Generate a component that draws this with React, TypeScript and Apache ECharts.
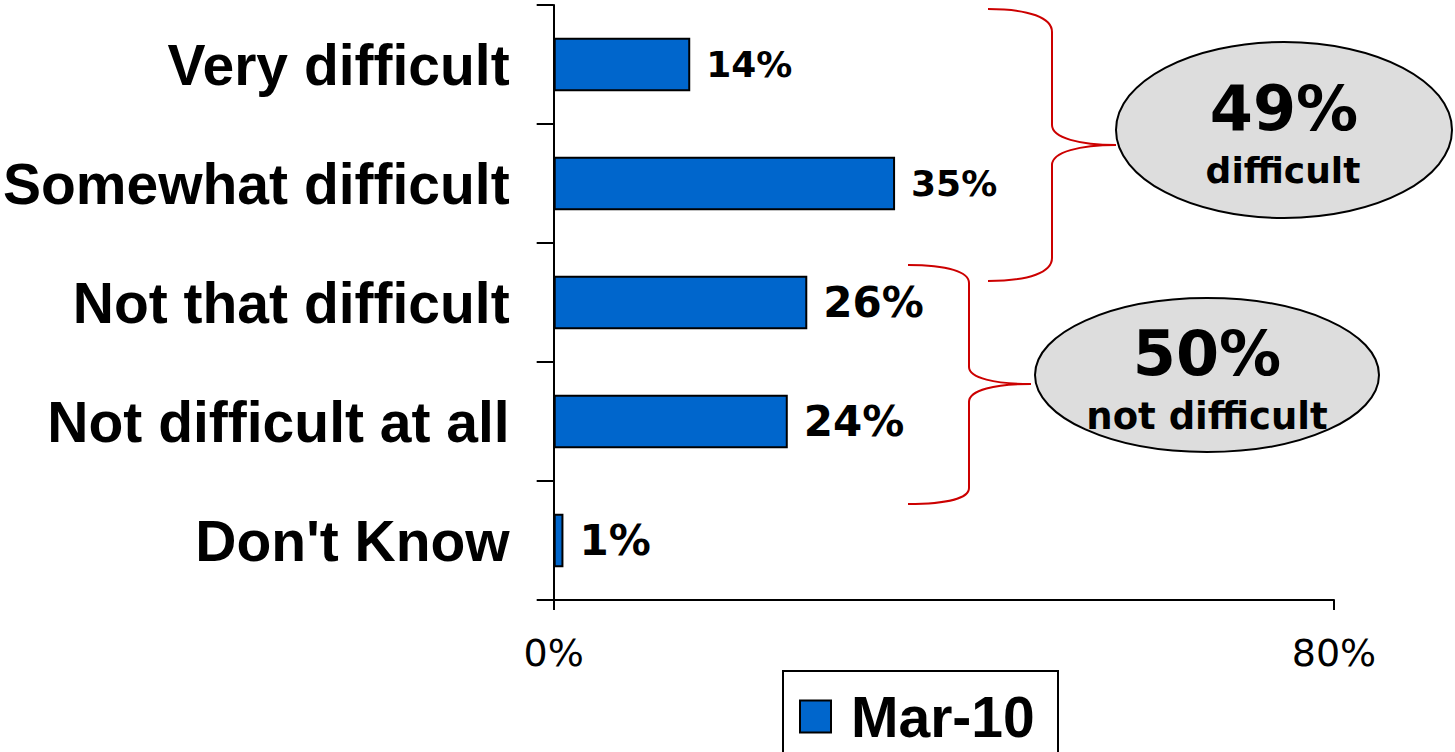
import React, { useEffect, useRef } from "react";
import * as echarts from "echarts";

const categories = [
  "Very difficult",
  "Somewhat difficult",
  "Not that difficult",
  "Not difficult at all",
  "Don't Know",
];
const values = [14, 35, 26, 24, 1];
const xTicks = [0, 80];
const seriesName = "Mar-10";
const groupDifficult = { value: "49%", label: "difficult" };
const groupNotDifficult = { value: "50%", label: "not difficult" };

const brace1 =
  "M988,9 C1030,9 1052,18 1052,32 L1052,125 C1052,138 1080,145 1116,145 C1080,145 1052,152 1052,165 L1052,258 C1052,272 1030,281 988,281";
const brace2 =
  "M908,265 C948,265 969,272 969,283 L969,367 C969,378 995,384 1031,384 C995,384 969,390 969,402 L969,488 C969,498 948,504 908,504";

echarts.graphic.registerShape("brace1", echarts.graphic.extendPath(brace1, {}) as any);
echarts.graphic.registerShape("brace2", echarts.graphic.extendPath(brace2, {}) as any);

export default function App() {
  const ref = useRef<HTMLDivElement>(null);
  useEffect(() => {
    if (!ref.current) return;
    const chart = echarts.init(ref.current, undefined, { renderer: "svg" });
    const labelSizes = [36, 36, 42, 42, 42];
    const option: any = {
      animation: false,
      grid: { left: 551, right: 121, top: 5, bottom: 152, containLabel: false },
      legend: {
        data: [seriesName],
        left: 799,
        top: 688,
        itemWidth: 31,
        itemHeight: 32,
        icon: "rect",
        padding: 0,
        textStyle: {
          fontFamily: "Liberation Sans",
          fontWeight: "bold",
          fontSize: 57,
          color: "#000",
          lineHeight: 32,
          height: 32,
          padding: [0, 0, 0, 15],
        },
      },
      xAxis: {
        type: "value",
        min: xTicks[0],
        max: xTicks[1],
        interval: xTicks[1] - xTicks[0],
        splitLine: { show: false },
        axisLine: { show: true, lineStyle: { color: "#000", width: 2 } },
        axisTick: { show: true, length: 10, lineStyle: { color: "#000", width: 2 } },
        axisLabel: {
          formatter: "{value}%",
          margin: 34,
          fontFamily: "DejaVu Sans",
          fontSize: 38,
          color: "#000",
        },
      },
      yAxis: {
        type: "category",
        data: categories,
        inverse: true,
        axisLine: { show: true, lineStyle: { color: "#000", width: 2 } },
        axisTick: { show: true, length: 17, lineStyle: { color: "#000", width: 2 } },
        axisLabel: {
          margin: 44,
          fontFamily: "Liberation Sans",
          fontWeight: "bold",
          fontSize: 57,
          color: "#000",
        },
      },
      series: [
        {
          name: seriesName,
          type: "bar",
          barWidth: "45%",
          data: values.map((v, i) => ({
            value: v,
            label: { fontSize: labelSizes[i] },
          })),
          itemStyle: { color: "#0066CC", borderColor: "#000", borderWidth: 2 },
          label: {
            show: true,
            position: "right",
            distance: 16,
            formatter: "{c}%",
            fontFamily: "DejaVu Sans",
            fontWeight: "bold",
            color: "#000",
          },
        },
      ],
      graphic: [
        {
          type: "rect",
          shape: { x: 783, y: 671, width: 275, height: 110 },
          style: { fill: "none", stroke: "#000", lineWidth: 2 },
          z: 100,
        },
        {
          type: "brace1",
          x: 0,
          y: 0,
          style: { fill: "none", stroke: "#CC0000", lineWidth: 2 },
        },
        {
          type: "brace2",
          x: 0,
          y: 0,
          style: { fill: "none", stroke: "#CC0000", lineWidth: 2 },
        },
        {
          type: "ellipse",
          shape: { cx: 1284, cy: 130, rx: 168, ry: 88 },
          style: { fill: "#DDDDDD", stroke: "#000", lineWidth: 2 },
        },
        {
          type: "ellipse",
          shape: { cx: 1207, cy: 375, rx: 172, ry: 77 },
          style: { fill: "#DDDDDD", stroke: "#000", lineWidth: 2 },
        },
        {
          type: "text",
          x: 1284,
          y: 108,
          style: {
            text: groupDifficult.value,
            fontFamily: "DejaVu Sans",
            fontWeight: "bold",
            fontSize: 62,
            fill: "#000",
            align: "center",
            verticalAlign: "middle",
          },
          z: 10,
        },
        {
          type: "text",
          x: 1283,
          y: 170,
          style: {
            text: groupDifficult.label,
            fontFamily: "DejaVu Sans",
            fontWeight: "bold",
            fontSize: 36,
            fill: "#000",
            align: "center",
            verticalAlign: "middle",
          },
          z: 10,
        },
        {
          type: "text",
          x: 1207,
          y: 353,
          style: {
            text: groupNotDifficult.value,
            fontFamily: "DejaVu Sans",
            fontWeight: "bold",
            fontSize: 62,
            fill: "#000",
            align: "center",
            verticalAlign: "middle",
          },
          z: 10,
        },
        {
          type: "text",
          x: 1207,
          y: 416,
          style: {
            text: groupNotDifficult.label,
            fontFamily: "DejaVu Sans",
            fontWeight: "bold",
            fontSize: 37,
            fill: "#000",
            align: "center",
            verticalAlign: "middle",
          },
          z: 10,
        },
      ],
    };
    chart.setOption(option);
    return () => chart.dispose();
  }, []);
  return (
    <div
      ref={ref}
      style={{ position: "fixed", left: 0, top: 0, width: 1455, height: 752, background: "#fff" }}
    />
  );
}
